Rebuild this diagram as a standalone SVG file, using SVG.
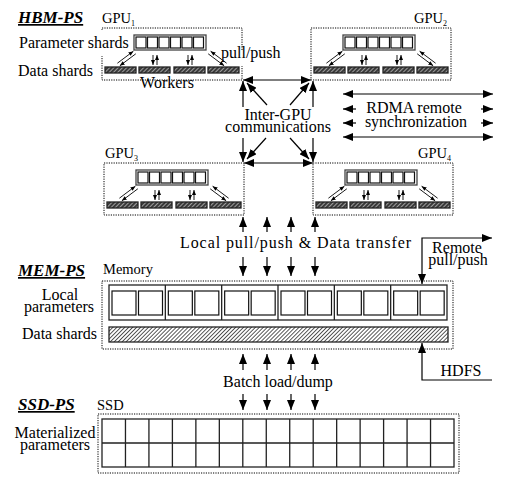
<svg xmlns="http://www.w3.org/2000/svg" width="505" height="481" viewBox="0 0 505 481">
<style>
text{font-family:"Liberation Serif","Times New Roman",serif;font-size:16px;fill:#000}
.t{font-weight:bold;font-style:italic;font-size:17px;text-decoration:underline}
.g{font-size:14.5px}
.s{font-size:8px}
.c{text-anchor:middle}
.dot{fill:none;stroke:#000;stroke-width:1;stroke-dasharray:1.2 1.2}
.a{fill:none;stroke:#000;stroke-width:1.2;marker-end:url(#ah)}
.aa{fill:none;stroke:#000;stroke-width:1.2;marker-start:url(#ah);marker-end:url(#ah)}
.sa{fill:none;stroke:#000;stroke-width:0.9;marker-end:url(#sh)}
.pb{fill:#fff;stroke:#444;stroke-width:1.3}
.sq{fill:#fff;stroke:#111;stroke-width:1.2}
.bar{fill:url(#hw);stroke:#222;stroke-width:1.3}
.ln{fill:none;stroke:#222;stroke-width:1.3}
</style>
<defs>
<marker id="ah" markerUnits="userSpaceOnUse" markerWidth="10" markerHeight="8" refX="10" refY="4" orient="auto-start-reverse"><path d="M0,0L10,4L0,8z" fill="#000"/></marker>
<marker id="sh" markerUnits="userSpaceOnUse" markerWidth="5" markerHeight="4" refX="5" refY="2" orient="auto"><path d="M0,0L5,2L0,4z" fill="#000"/></marker>
<pattern id="hw" width="3" height="3" patternUnits="userSpaceOnUse" patternTransform="rotate(45)"><rect width="3" height="3" fill="#3a3a3a"/><line x1="0" y1="0" x2="0" y2="3" stroke="#fff" stroke-width="1"/></pattern>
<pattern id="hb" width="2.8" height="2.8" patternUnits="userSpaceOnUse" patternTransform="rotate(45)"><rect width="2.8" height="2.8" fill="#fff"/><line x1="0" y1="0" x2="0" y2="2.8" stroke="#000" stroke-width="1.3"/></pattern>
<g id="gpuin">
<rect class="pb" x="32" y="7" width="72" height="15"/>
<rect class="sq" x="34" y="9" width="10" height="11"/>
<rect class="sq" x="45.5" y="9" width="10" height="11"/>
<rect class="sq" x="57" y="9" width="10" height="11"/>
<rect class="sq" x="68.5" y="9" width="10" height="11"/>
<rect class="sq" x="80" y="9" width="10" height="11"/>
<rect class="sq" x="91.5" y="9" width="10" height="11"/>
<rect class="bar" x="3" y="39" width="31" height="6"/>
<rect class="bar" x="37" y="39" width="31" height="6"/>
<rect class="bar" x="72" y="39" width="31" height="6"/>
<rect class="bar" x="106" y="39" width="31" height="6"/>
<line class="sa" x1="15.4" y1="35.2" x2="31.4" y2="23.2"/>
<line class="sa" x1="33.8" y1="25.8" x2="17.8" y2="37.8"/>
<line class="sa" x1="51" y1="27" x2="51" y2="37"/>
<line class="sa" x1="55" y1="37" x2="55" y2="27"/>
<line class="sa" x1="86" y1="27" x2="86" y2="37"/>
<line class="sa" x1="90" y1="37" x2="90" y2="27"/>
<line class="sa" x1="124.6" y1="35.2" x2="108.6" y2="23.2"/>
<line class="sa" x1="106.2" y1="25.8" x2="122.2" y2="37.8"/>
</g>
</defs>
<rect width="505" height="481" fill="#fff"/>

<g id="titles">
<text class="t" x="18" y="23">HBM-PS</text>
<text class="t" x="18" y="276">MEM-PS</text>
<text class="t" x="18" y="410">SSD-PS</text>
</g>

<g id="gpu1">
<rect class="dot" x="102" y="28" width="140" height="52"/>
<rect x="15" y="30" width="117" height="26" fill="#fff"/>
<rect x="219" y="50" width="30" height="16" fill="#fff"/>
<use href="#gpuin" x="102" y="28"/>
<text class="g" x="102" y="23">GPU<tspan class="s" dy="3">1</tspan></text>
<text x="19" y="48">Parameter shards</text>
<text x="18" y="76">Data shards</text>
<text class="c" x="167" y="88">Workers</text>
<text x="221" y="58">pull/push</text>
</g>

<g id="gpu2">
<rect class="dot" x="311" y="28" width="140" height="52"/>
<use href="#gpuin" x="311" y="28"/>
<text class="g" x="414" y="23">GPU<tspan class="s" dy="3">2</tspan></text>
</g>

<g id="gpu3">
<rect class="dot" x="104" y="163" width="140" height="52"/>
<use href="#gpuin" x="104" y="163"/>
<text class="g" x="105" y="158">GPU<tspan class="s" dy="3">3</tspan></text>
</g>

<g id="gpu4">
<rect class="dot" x="313" y="163" width="140" height="52"/>
<use href="#gpuin" x="313" y="163"/>
<text class="g" x="418" y="158">GPU<tspan class="s" dy="3">4</tspan></text>
</g>

<g id="memory">
<rect class="dot" x="102" y="281" width="351" height="68"/>
<text class="g" x="103" y="274">Memory</text>
<rect class="ln" x="109" y="285" width="338" height="35"/>
<path class="ln" d="M165.33,285V320M221.67,285V320M278,285V320M334.33,285V320M390.67,285V320"/>
<rect class="sq" x="112" y="291" width="24" height="24"/>
<rect class="sq" x="138.5" y="291" width="24" height="24"/>
<rect class="sq" x="168.33" y="291" width="24" height="24"/>
<rect class="sq" x="194.83" y="291" width="24" height="24"/>
<rect class="sq" x="224.67" y="291" width="24" height="24"/>
<rect class="sq" x="251.17" y="291" width="24" height="24"/>
<rect class="sq" x="281" y="291" width="24" height="24"/>
<rect class="sq" x="307.5" y="291" width="24" height="24"/>
<rect class="sq" x="337.33" y="291" width="24" height="24"/>
<rect class="sq" x="363.83" y="291" width="24" height="24"/>
<rect class="sq" x="393.67" y="291" width="24" height="24"/>
<rect class="sq" x="420.17" y="291" width="24" height="24"/>
<rect x="109" y="327" width="339" height="15" fill="url(#hb)" stroke="#222" stroke-width="1.3"/>
<text class="c" x="60" y="300">Local<tspan x="59" dy="12">parameters</tspan></text>
<text x="22" y="339">Data shards</text>
</g>

<g id="ssd">
<rect class="dot" x="98" y="414" width="361" height="59"/>
<text class="g" x="97" y="410">SSD</text>
<rect class="ln" x="102" y="419" width="352" height="48"/>
<path class="ln" d="M102,443H454M125.47,419V467M148.93,419V467M172.4,419V467M195.87,419V467M219.33,419V467M242.8,419V467M266.27,419V467M289.73,419V467M313.2,419V467M336.67,419V467M360.13,419V467M383.6,419V467M407.07,419V467M430.53,419V467"/>
<text class="c" x="55" y="438">Materialized<tspan x="55" dy="12">parameters</tspan></text>
</g>

<g id="labels">
<text class="c" x="278" y="120">Inter-GPU<tspan x="278" dy="12">communications</tspan></text>
<text class="c" x="414" y="113">RDMA remote<tspan x="416" dy="14">synchronization</tspan></text>
<text x="180" y="248" textLength="231" lengthAdjust="spacing">Local pull/push &amp; Data transfer</text>
<text class="c" x="278" y="387">Batch load/dump</text>
<text class="c" x="457" y="253">Remote<tspan x="458" dy="12">pull/push</tspan></text>
<text class="c" x="461" y="376">HDFS</text>
</g>

<g id="connectors">
<line class="aa" x1="243" y1="80" x2="311" y2="80"/>
<line class="aa" x1="244" y1="163" x2="313" y2="163"/>
<line class="a" x1="243" y1="107" x2="243" y2="81"/>
<line class="a" x1="313" y1="107" x2="313" y2="81"/>
<line class="a" x1="243" y1="138" x2="243" y2="162"/>
<line class="a" x1="313" y1="138" x2="313" y2="162"/>
<line class="a" x1="267" y1="105" x2="247" y2="83"/>
<line class="a" x1="290" y1="105" x2="309" y2="83"/>
<line class="a" x1="266" y1="138" x2="247" y2="159"/>
<line class="a" x1="290" y1="138" x2="309" y2="159"/>
<line class="aa" x1="343" y1="94" x2="493" y2="94"/>
<line class="a" x1="356" y1="109" x2="343" y2="109"/>
<line class="a" x1="481" y1="109" x2="493" y2="109"/>
<line class="a" x1="356" y1="123" x2="343" y2="123"/>
<line class="a" x1="481" y1="123" x2="493" y2="123"/>
<line class="aa" x1="343" y1="137" x2="493" y2="137"/>
<line class="a" x1="243" y1="232" x2="243" y2="217"/>
<line class="a" x1="267" y1="232" x2="267" y2="217"/>
<line class="a" x1="291" y1="232" x2="291" y2="217"/>
<line class="a" x1="315" y1="232" x2="315" y2="217"/>
<line class="a" x1="243" y1="257" x2="243" y2="276"/>
<line class="a" x1="267" y1="257" x2="267" y2="276"/>
<line class="a" x1="291" y1="257" x2="291" y2="276"/>
<line class="a" x1="315" y1="257" x2="315" y2="276"/>
<path class="aa" d="M422,284V238H492"/>
<path class="a" d="M492,380H422V343"/>
<line class="a" x1="243" y1="370" x2="243" y2="354"/>
<line class="a" x1="267" y1="370" x2="267" y2="354"/>
<line class="a" x1="291" y1="370" x2="291" y2="354"/>
<line class="a" x1="315" y1="370" x2="315" y2="354"/>
<line class="a" x1="243" y1="394" x2="243" y2="410"/>
<line class="a" x1="267" y1="394" x2="267" y2="410"/>
<line class="a" x1="291" y1="394" x2="291" y2="410"/>
<line class="a" x1="315" y1="394" x2="315" y2="410"/>
</g>
</svg>
